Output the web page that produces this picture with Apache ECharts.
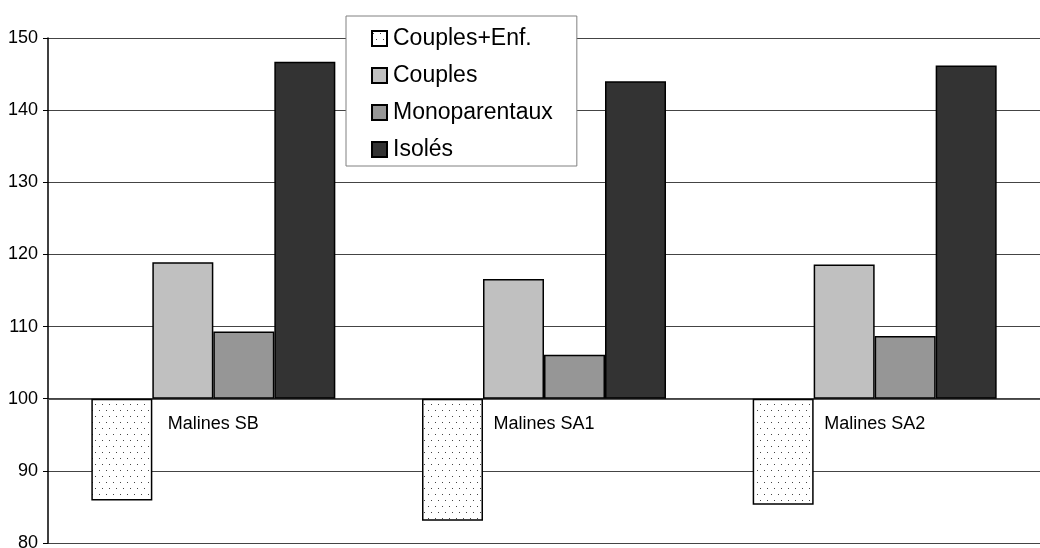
<!DOCTYPE html>
<html>
<head>
<meta charset="utf-8">
<script src="https://cdn.jsdelivr.net/npm/echarts@6/dist/echarts.min.js"></script>
<style>
  html, body { margin: 0; padding: 0; background: #fff; }
  #chart { width: 1040px; height: 548px; }
</style>
</head>
<body>
<div id="chart"></div>
<script>
// data (index, base = 100)
const categories = ['Malines SB', 'Malines SA1', 'Malines SA2']
const seriesNames = ['Couples+Enf.', 'Couples', 'Monoparentaux', 'Isolés']
const couplesEnf = [85.9, 83.1, 85.3]
const couples = [118.9, 116.6, 118.6]
const monoparentaux = [109.3, 106.1, 108.7]
const isoles = [146.7, 144.0, 146.2]
const yTicks = [80, 90, 100, 110, 120, 130, 140, 150]
const base = 100

// dotted fill for Couples+Enf.
const dots = document.createElement('canvas')
dots.width = 7
dots.height = 12
const ctx = dots.getContext('2d')
ctx.fillStyle = '#fff'
ctx.fillRect(0, 0, 7, 12)
ctx.fillStyle = '#444'
ctx.fillRect(1, 2, 1, 1)
ctx.fillRect(4, 8, 1, 1)

const fills = [
  { image: dots, repeat: 'repeat' },
  '#c0c0c0',
  '#969696',
  '#333333'
]
const values = [couplesEnf, couples, monoparentaux, isoles]

const chart = echarts.init(document.getElementById('chart'))
chart.setOption({
  animation: false,
  textStyle: { fontFamily: 'Liberation Sans, Arial, sans-serif' },
  grid: { left: 48, right: 0, top: 38, bottom: 5, containLabel: false, outerBoundsMode: 'none' },
  legend: {
    orient: 'vertical',
    left: 346,
    top: 16,
    padding: [11, 24, 5, 25],
    itemGap: 14,
    itemWidth: 15,
    itemHeight: 15,
    icon: 'rect',
    backgroundColor: '#fff',
    borderColor: '#808080',
    borderWidth: 1,
    borderRadius: 0,
    textStyle: { fontSize: 23, color: '#000', lineHeight: 22, padding: [0, 0, 0, 1] },
    data: seriesNames
  },
  xAxis: {
    type: 'category',
    data: categories,
    position: 'bottom',
    // the category axis crosses the value axis at 100
    offset: -144,
    axisLine: { onZero: false, lineStyle: { color: '#555', width: 1 } },
    axisTick: { show: false },
    axisLabel: { color: '#000', fontSize: 18, margin: 16 },
    splitLine: { show: false }
  },
  yAxis: {
    type: 'value',
    min: yTicks[0] - base,
    max: yTicks[yTicks.length - 1] - base,
    interval: 10,
    axisLine: { show: true, lineStyle: { color: '#000', width: 1.5 } },
    axisTick: { show: true, length: 5, lineStyle: { color: '#000' } },
    axisLabel: { color: '#000', fontSize: 18, margin: 10, formatter: v => v + base },
    splitLine: { show: true, lineStyle: { color: '#444', width: 1 } }
  },
  series: seriesNames.map((name, i) => ({
    name: name,
    type: 'bar',
    barWidth: 61,
    barGap: '0%',
    data: values[i].map(v => +(v - base).toFixed(1)),
    itemStyle: { color: fills[i], borderColor: '#000', borderWidth: 1.5 }
  }))
})
</script>
</body>
</html>
